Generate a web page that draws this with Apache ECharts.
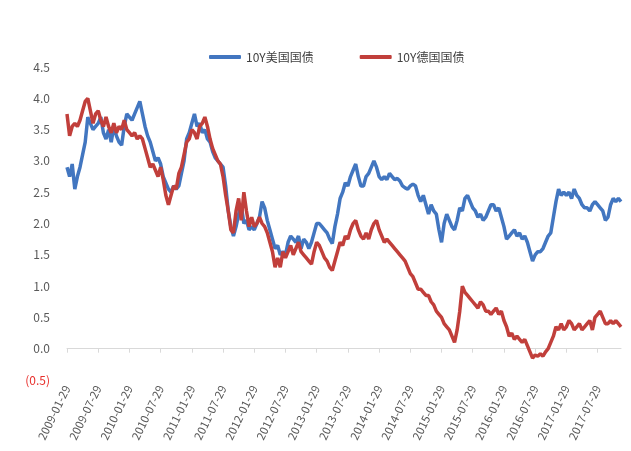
<!DOCTYPE html>
<html>
<head>
<meta charset="utf-8">
<script src="https://cdn.jsdelivr.net/npm/echarts@6/dist/echarts.min.js"></script>
<style>
  html, body { margin: 0; padding: 0; background: #ffffff; }
  #chart { width: 631px; height: 451px; }
</style>
</head>
<body>
<div id="chart"></div>
<script>
// Semi-monthly observation dates: the 29th (28th in February) and the 14th of the next month
const startYear = 2009;
const pointCount = 214;
const dates = [];
for (let k = 0; k < pointCount; k++) {
  const m = Math.floor(k / 2);
  const pad = n => (n < 10 ? '0' + n : '' + n);
  if (k % 2 === 0) {
    const y = startYear + Math.floor(m / 12);
    const mo = (m % 12) + 1;
    dates.push(y + '-' + pad(mo) + '-' + (mo === 2 ? '28' : '29'));
  } else {
    const y = startYear + Math.floor((m + 1) / 12);
    const mo = ((m + 1) % 12) + 1;
    dates.push(y + '-' + pad(mo) + '-14');
  }
}

const seriesNames = ['10Y美国国债', '10Y德国国债'];

// US Treasury 10Y yield (%)
const usYield = [
  2.9, 2.75, 2.95, 2.55, 2.75, 2.9, 3.1, 3.3, 3.7, 3.6,
  3.5, 3.55, 3.6, 3.7, 3.45, 3.35, 3.5, 3.3, 3.55, 3.4,
  3.3, 3.25, 3.55, 3.75, 3.7, 3.65, 3.75, 3.85, 3.95, 3.75,
  3.55, 3.4, 3.3, 3.15, 3.0, 3.05, 2.95, 2.75, 2.65, 2.55,
  2.5, 2.6, 2.55, 2.6, 2.8, 3.0, 3.35, 3.45, 3.6, 3.75,
  3.55, 3.6, 3.45, 3.5, 3.35, 3.3, 3.15, 3.05, 3.0, 2.95,
  2.9, 2.6, 2.2, 1.95, 1.8, 1.95, 2.15, 2.3, 2.0, 2.05,
  1.9, 1.95, 1.9, 2.0, 2.1, 2.35, 2.25, 2.05, 1.9, 1.75,
  1.6, 1.65, 1.5, 1.55, 1.5, 1.7, 1.8, 1.75, 1.7, 1.8,
  1.6, 1.75, 1.7, 1.6, 1.7, 1.85, 2.0, 2.0, 1.95, 1.9,
  1.85, 1.75, 1.68, 1.95, 2.15, 2.4, 2.5, 2.65, 2.6, 2.75,
  2.85, 2.95, 2.75, 2.6, 2.6, 2.75, 2.8, 2.9, 3.0, 2.9,
  2.75, 2.7, 2.75, 2.7, 2.8, 2.75, 2.7, 2.72, 2.68, 2.6,
  2.57, 2.55, 2.6, 2.63, 2.6, 2.45, 2.35, 2.45, 2.3, 2.15,
  2.3, 2.2, 2.15, 1.9, 1.7, 2.0, 2.15, 2.05, 1.95, 1.9,
  2.05, 2.25, 2.2, 2.4, 2.45, 2.35, 2.25, 2.2, 2.1, 2.15,
  2.05, 2.1, 2.2, 2.3, 2.3, 2.2, 2.25, 2.1, 1.95, 1.75,
  1.8, 1.85, 1.9, 1.8, 1.85, 1.75, 1.8, 1.7, 1.55, 1.4,
  1.5, 1.55, 1.55, 1.6, 1.7, 1.8, 1.85, 2.1, 2.35, 2.55,
  2.45, 2.5, 2.45, 2.5, 2.4, 2.55, 2.45, 2.4, 2.3, 2.25,
  2.25, 2.2, 2.3, 2.35, 2.3, 2.25, 2.2, 2.05, 2.1, 2.3,
  2.4, 2.35, 2.4, 2.35
];

// German Bund 10Y yield (%)
const deYield = [
  3.75, 3.4, 3.55, 3.6, 3.55, 3.65, 3.8, 3.95, 4.0, 3.8,
  3.6, 3.75, 3.8, 3.65, 3.55, 3.7, 3.55, 3.45, 3.6, 3.45,
  3.55, 3.5, 3.65, 3.5, 3.45, 3.4, 3.45, 3.35, 3.4, 3.35,
  3.2, 3.05, 2.9, 2.95, 2.85, 2.75, 2.9, 2.7, 2.45, 2.3,
  2.45, 2.6, 2.55, 2.8, 2.9, 3.1, 3.3, 3.35, 3.5, 3.45,
  3.35, 3.55, 3.6, 3.7, 3.55, 3.35, 3.2, 3.1, 3.0, 2.95,
  2.75, 2.45, 2.2, 1.9, 1.85, 2.2, 2.4, 2.05, 2.5, 2.2,
  1.95, 2.1, 1.95, 2.0, 2.1, 2.0, 1.95, 1.85, 1.7, 1.55,
  1.3, 1.45, 1.3, 1.55, 1.45, 1.55, 1.65, 1.5, 1.6, 1.7,
  1.55, 1.5, 1.45, 1.4, 1.35, 1.55, 1.7, 1.65, 1.55, 1.45,
  1.4, 1.3, 1.25, 1.4, 1.55, 1.7, 1.65, 1.8, 1.75, 1.9,
  2.0, 2.05, 1.9, 1.8, 1.75, 1.85, 1.75, 1.9, 2.0, 2.05,
  1.9, 1.8, 1.7, 1.75, 1.7, 1.65, 1.6, 1.55, 1.5, 1.45,
  1.4, 1.3, 1.2, 1.15, 1.05, 0.95, 0.95, 0.9, 0.85, 0.85,
  0.75, 0.7, 0.6, 0.55, 0.5, 0.4, 0.35, 0.3, 0.2, 0.1,
  0.3, 0.6, 1.0, 0.9, 0.85, 0.8, 0.75, 0.7, 0.65, 0.75,
  0.7, 0.6, 0.6, 0.55, 0.6, 0.65, 0.55, 0.6, 0.45, 0.35,
  0.2, 0.25, 0.15, 0.2, 0.15, 0.1, 0.15, 0.05, -0.05, -0.15,
  -0.1, -0.12, -0.08, -0.12, -0.05, 0.0, 0.1, 0.2, 0.35, 0.3,
  0.4, 0.3, 0.35, 0.45, 0.4, 0.3, 0.35, 0.4, 0.3, 0.35,
  0.4, 0.45, 0.3, 0.5, 0.55, 0.6, 0.5, 0.4, 0.4, 0.45,
  0.4, 0.45, 0.4, 0.35
];

// Y-axis tick labels, from -0.5 up to 4.5
const yTickLabels = ['(0.5)', '0.0', '0.5', '1.0', '1.5', '2.0', '2.5', '3.0', '3.5', '4.0', '4.5'];

const colors = ['#4276C0', '#C13F3B'];
const fontFamily = '"Liberation Sans Narrow", "Noto Sans CJK SC", sans-serif';

const chart = echarts.init(document.getElementById('chart'), null, { renderer: 'canvas' });
chart.setOption({
  animation: false,
  backgroundColor: '#ffffff',
  color: colors,
  textStyle: { fontFamily: fontFamily },
  legend: {
    top: 46,
    left: 204,
    itemGap: 46,
    itemWidth: 32,
    itemHeight: 4,
    icon: 'roundRect',
    textStyle: { fontSize: 12, color: '#404040', fontFamily: fontFamily },
    data: seriesNames
  },
  grid: { left: 67, right: 10, top: 67, bottom: 71, containLabel: false },
  xAxis: {
    type: 'category',
    data: dates,
    boundaryGap: false,
    axisLine: { onZero: true, lineStyle: { color: '#D9D9D9', width: 1 } },
    axisTick: { show: true, interval: 11, length: 4, lineStyle: { color: '#D9D9D9' } },
    axisLabel: {
      interval: 11,
      rotate: 64,
      margin: 6,
      fontSize: 11.5,
      color: '#595959',
      fontFamily: fontFamily
    },
    splitLine: { show: false }
  },
  yAxis: {
    type: 'value',
    min: -0.5,
    max: 4.5,
    interval: 0.5,
    axisLine: { show: false },
    axisTick: { show: false },
    splitLine: { show: false },
    axisLabel: {
      margin: 17,
      fontSize: 12,
      fontFamily: fontFamily,
      formatter: function (v) {
        const idx = Math.round((v + 0.5) / 0.5);
        return yTickLabels[idx] !== undefined ? yTickLabels[idx] : '';
      },
      color: function (v) {
        return v < 0 ? '#E8302C' : '#595959';
      }
    }
  },
  series: [
    {
      name: seriesNames[0],
      type: 'line',
      data: usYield,
      showSymbol: false,
      symbol: 'none',
      lineStyle: { width: 3.5, color: colors[0] },
      z: 2
    },
    {
      name: seriesNames[1],
      type: 'line',
      data: deYield,
      showSymbol: false,
      symbol: 'none',
      lineStyle: { width: 3.5, color: colors[1] },
      z: 3
    }
  ]
});
</script>
</body>
</html>
